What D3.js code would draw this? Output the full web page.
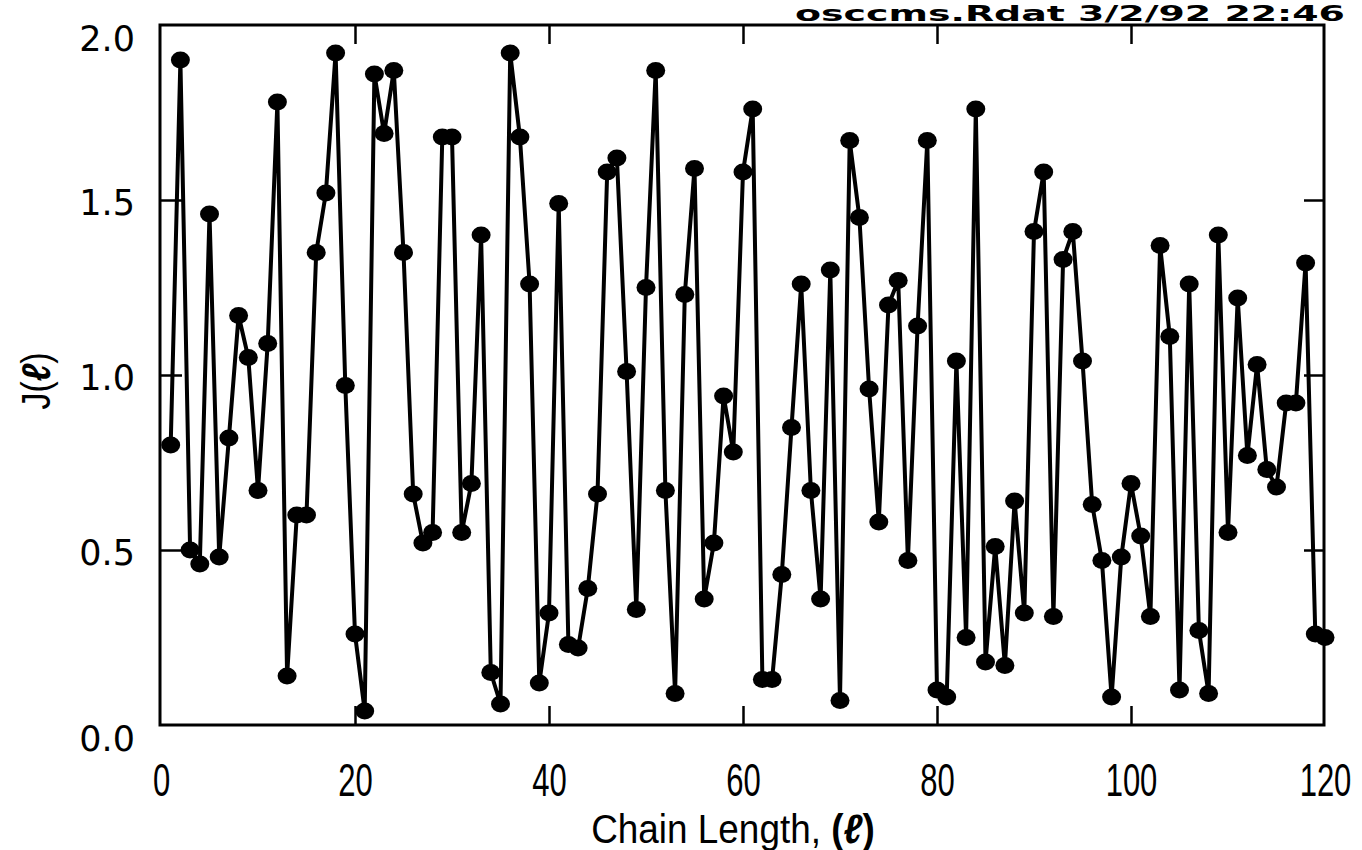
<!DOCTYPE html>
<html>
<head>
<meta charset="utf-8">
<script src="https://cdn.jsdelivr.net/npm/d3@7"></script>
<style>
    body { margin: 0; background: #fff; }
</style>
</head>
<body>
<div id="chart"></div>
<script>
// Chain length l = 1..120 and J(l)
const chainLength = d3.range(1, 121);
const jValues = [
    0.80, 1.90, 0.50, 0.46, 1.46, 0.48, 0.82, 1.17, 1.05, 0.67,
    1.09, 1.78, 0.14, 0.60, 0.60, 1.35, 1.52, 1.92, 0.97, 0.26,
    0.04, 1.86, 1.69, 1.87, 1.35, 0.66, 0.52, 0.55, 1.68, 1.68,
    0.55, 0.69, 1.40, 0.15, 0.06, 1.92, 1.68, 1.26, 0.12, 0.32,
    1.49, 0.23, 0.22, 0.39, 0.66, 1.58, 1.62, 1.01, 0.33, 1.25,
    1.87, 0.67, 0.09, 1.23, 1.59, 0.36, 0.52, 0.94, 0.78, 1.58,
    1.76, 0.13, 0.13, 0.43, 0.85, 1.26, 0.67, 0.36, 1.30, 0.07,
    1.67, 1.45, 0.96, 0.58, 1.20, 1.27, 0.47, 1.14, 1.67, 0.10,
    0.08, 1.04, 0.25, 1.76, 0.18, 0.51, 0.17, 0.64, 0.32, 1.41,
    1.58, 0.31, 1.33, 1.41, 1.04, 0.63, 0.47, 0.08, 0.48, 0.69,
    0.54, 0.31, 1.37, 1.11, 0.10, 1.26, 0.27, 0.09, 1.40, 0.55,
    1.22, 0.77, 1.03, 0.73, 0.68, 0.92, 0.92, 1.32, 0.26, 0.25
];
const xTicks = [0, 20, 40, 60, 80, 100, 120];
const yTicks = [0, 0.5, 1.0, 1.5, 2.0];

const data = chainLength.map((l, i) => ({ l: l, j: jValues[i] }));

let width = 1362,
    height = 850;

let plot = { left: 160, right: 1324, top: 25, bottom: 725 };

let svg = d3.select("#chart")
    .append("svg")
    .attr("width", width)
    .attr("height", height);

let x = d3.scaleLinear()
    .domain([0, 120])
    .range([161, 1325]);

let y = d3.scaleLinear()
    .domain([0, 2])
    .range([plot.bottom, plot.top]);

// Header stamp above the frame
svg.append("text")
    .attr("x", 795)
    .attr("y", 21)
    .attr("textLength", 550)
    .attr("lengthAdjust", "spacingAndGlyphs")
    .style("font-family", "DejaVu Sans")
    .style("font-weight", "bold")
    .style("font-size", "21px")
    .text("osccms.Rdat 3/2/92 22:46");

// Bottom axis with inward ticks
let xAxis = svg.append("g")
    .attr("transform", `translate(0,${plot.bottom})`)
    .call(d3.axisBottom(x).tickValues(xTicks).tickSize(-19).tickPadding(38).tickFormat(d3.format("d")));
xAxis.select(".domain").remove();
xAxis.selectAll("line").attr("stroke", "#000").attr("stroke-width", 2.5);
xAxis.selectAll("text")
    .attr("transform", "scale(0.66,1)")
    .style("font-family", "Liberation Sans Narrow, Liberation Sans, Arial")
    .style("font-size", "47px")
    .attr("fill", "#000");
// no tick marks at the frame corners
xAxis.selectAll(".tick").filter(d => d === 0 || d === 120).select("line").remove();

// Top ticks
let xTop = svg.append("g")
    .attr("transform", `translate(0,${plot.top})`)
    .call(d3.axisTop(x).tickValues(xTicks.slice(1, -1)).tickSize(-19).tickFormat(""));
xTop.select(".domain").remove();
xTop.selectAll("line").attr("stroke", "#000").attr("stroke-width", 2.5);

// Left axis
let yAxis = svg.append("g")
    .attr("transform", `translate(${plot.left},0)`)
    .call(d3.axisLeft(y).tickValues(yTicks).tickSize(-22).tickPadding(25).tickFormat(d3.format(".1f")));
yAxis.select(".domain").remove();
yAxis.selectAll("line").attr("stroke", "#000").attr("stroke-width", 2.5);
yAxis.selectAll("text")
    .style("font-family", "DejaVu Sans")
    .style("font-size", "35px")
    .attr("fill", "#000")
    .attr("dy", d => (d === 0 || d === 2) ? "0.72em" : "0.42em");
yAxis.selectAll(".tick").filter(d => d === 0 || d === 2).select("line").remove();

// Right ticks
let yRight = svg.append("g")
    .attr("transform", `translate(${plot.right},0)`)
    .call(d3.axisRight(y).tickValues(yTicks.slice(1, -1)).tickSize(-20).tickFormat(""));
yRight.select(".domain").remove();
yRight.selectAll("line").attr("stroke", "#000").attr("stroke-width", 2.5);

// Frame
svg.append("rect")
    .attr("x", plot.left)
    .attr("y", plot.top)
    .attr("width", plot.right - plot.left)
    .attr("height", plot.bottom - plot.top)
    .attr("fill", "none")
    .attr("stroke", "#000")
    .attr("stroke-width", 3);

// Axis titles
let xTitle = svg.append("text")
    .attr("transform", `translate(733,843) scale(0.9,1)`)
    .attr("text-anchor", "middle")
    .style("font-family", "Liberation Sans, Arial")
    .style("font-size", "41px");
xTitle.append("tspan").text("Chain Length, ");
xTitle.append("tspan").style("font-weight", "bold").text("(");
xTitle.append("tspan").style("font-weight", "bold").style("font-style", "italic").text("ℓ");
xTitle.append("tspan").style("font-weight", "bold").text(")");

let yTitle = svg.append("text")
    .attr("transform", "translate(50,381) rotate(-90) scale(0.85,1)")
    .attr("text-anchor", "middle")
    .style("font-family", "Liberation Sans, Arial")
    .style("font-size", "40px");
yTitle.append("tspan").text("J(");
yTitle.append("tspan").style("font-weight", "bold").style("font-style", "italic").text("ℓ");
yTitle.append("tspan").text(")");

// Line through the points
let line = d3.line()
    .x(d => x(d.l))
    .y(d => y(d.j));

svg.append("path")
    .datum(data)
    .attr("fill", "none")
    .attr("stroke", "#000")
    .attr("stroke-width", 4)
    .attr("stroke-linejoin", "miter")
    .attr("d", line);

// Markers
svg.selectAll("ellipse.pt")
    .data(data)
    .enter()
    .append("ellipse")
    .attr("class", "pt")
    .attr("cx", d => x(d.l))
    .attr("cy", d => y(d.j))
    .attr("rx", 9.5)
    .attr("ry", 8.5)
    .attr("fill", "#000");
</script>
</body>
</html>
